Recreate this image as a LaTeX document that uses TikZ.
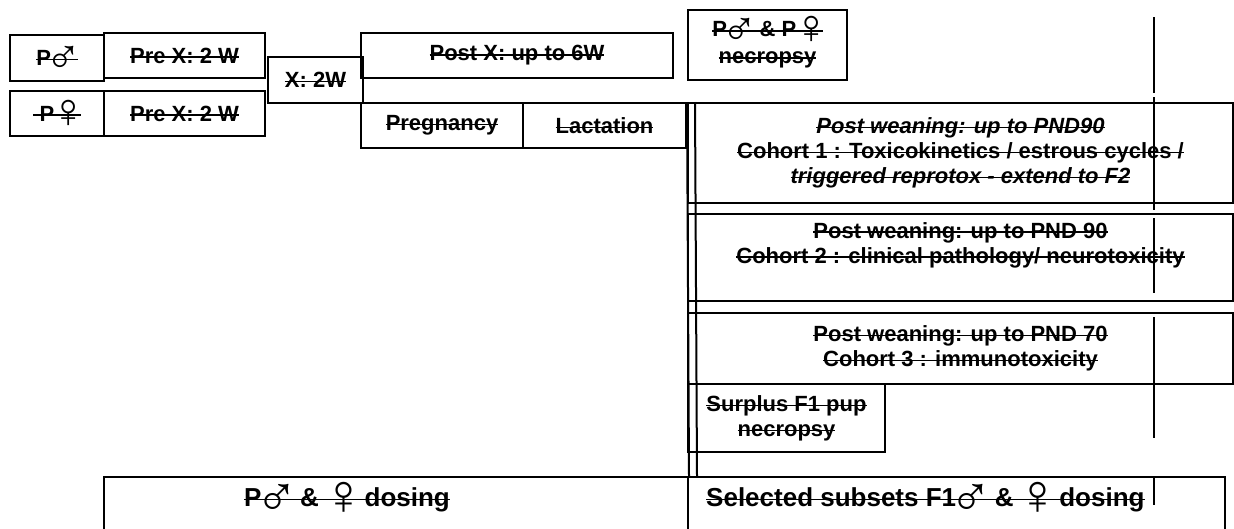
\documentclass[tikz,border=0pt]{standalone}
\usepackage{fontspec}
\setmainfont{Liberation Sans}
\newfontfamily\symfont{Liberation Serif}[Scale=2.2]
\usepackage{tikz}
\usetikzlibrary{positioning}

% struck-through text and the two sex symbols
\newcommand{\strk}[1]{\setbox0\hbox{#1}\rlap{\rule[0.24em]{\wd0}{1.4pt}}\box0}
\newcommand{\symM}{\kern-0.24em\raisebox{-0.38em}[0pt][0pt]{\symfont\mdseries\upshape ♂}\kern-0.2em}
\newcommand{\symF}{\kern-0.15em\raisebox{-0.3em}[0pt][0pt]{\symfont\mdseries\upshape ♀}\kern-0.3em}

\tikzset{
  cell/.style={draw, line width=2pt, inner sep=0pt, anchor=north west, align=center,
    font=\fontsize{22}{25}\selectfont\bfseries},
  txt/.style={inner sep=0pt, align=center, font=\fontsize{22}{25}\selectfont\bfseries},
  bigtxt/.style={inner sep=0pt, font=\fontsize{26}{30}\selectfont\bfseries},
  rule/.style={line width=2pt}
}

\begin{document}
\begin{tikzpicture}[x=1pt, y=-1pt]
  \useasboundingbox (0,0) rectangle (1234,528);
  % parental generation
  \node[cell, minimum width=94pt, minimum height=46pt] (pm) at (9,34) {\strk{P\symM}};
  \node[cell, minimum width=161pt, minimum height=45pt] (prem) at (103,32) {\strk{Pre X: 2 W}};
  \node[cell, minimum width=94pt, minimum height=45pt] (pf) at (9,90) {\strk{\ P\symF}};
  \node[cell, minimum width=161pt, minimum height=45pt] (pref) at (103,90) {\strk{Pre X: 2 W}};
  \node[cell, minimum width=95pt, minimum height=46pt] (mate) at (267,56) {\strk{X: 2W}};
  \node[cell, minimum width=312pt, minimum height=45pt] (postx) at (360,32) {\strk{Post X: up to 6W}};
  \node[cell, minimum width=162pt, minimum height=45pt] (preg) at (360,102) {\strk{Pregnancy}};
  \node[cell, minimum width=163pt, minimum height=45pt] (lact) at (522,102) {\strk{Lactation}};
  \node[cell, minimum width=159pt, minimum height=70pt] (necro) at (687,9)
    {\strk{P\symM{} \& P\symF}\\[2pt]\strk{necropsy}};
  % F1 cohorts
  \node[cell, minimum width=545pt, minimum height=100pt] (coh1) at (687,102)
    {\strk{\itshape Post weaning: up to PND90}\\
     \strk{Cohort 1 : Toxicokinetics / estrous cycles /}\\
     \strk{\itshape triggered reprotox - extend to F2}};
  \node[cell, minimum width=545pt, minimum height=87pt] (coh2) at (687,213) {};
  \node[txt, anchor=north] (coh2txt) at ([yshift=-9pt]coh2.north)
    {\strk{Post weaning: up to PND 90}\\
     \strk{Cohort 2 : clinical pathology/ neurotoxicity}};
  \node[cell, minimum width=545pt, minimum height=71pt] (coh3) at (687,312)
    {\strk{Post weaning: up to PND 70}\\
     \strk{Cohort 3 : immunotoxicity}};
  \node[cell, minimum width=197pt, minimum height=68pt] (surplus) at (687,383)
    {\strk{Surplus F1 pup}\\\strk{necropsy}};
  % dosing periods
  \node[cell, minimum width=584pt, minimum height=70pt] (dosep) at (103,476) {};
  \node[cell, minimum width=537pt, minimum height=70pt] (dosef) at (687,476) {};
  \node[bigtxt] (doseptxt) at (347,500) {\strk{P\symM{} \& \symF{} dosing}};
  \node[bigtxt, anchor=west] (doseftxt) at (706,500) {\strk{Selected subsets F1\symM{} \& \symF{} dosing}};
  % double line at weaning
  \draw[rule] (coh1.north west) -- (dosep.north east);
  \draw[rule] ([xshift=8pt]coh1.north west) -- ([xshift=8pt]dosep.north east);
  % time marker
  \foreach \a/\b in {17/93, 97/210, 218/293, 317/438, 478/505}
    \draw[rule] (1154,\a) -- (1154,\b);
\end{tikzpicture}
\end{document}
